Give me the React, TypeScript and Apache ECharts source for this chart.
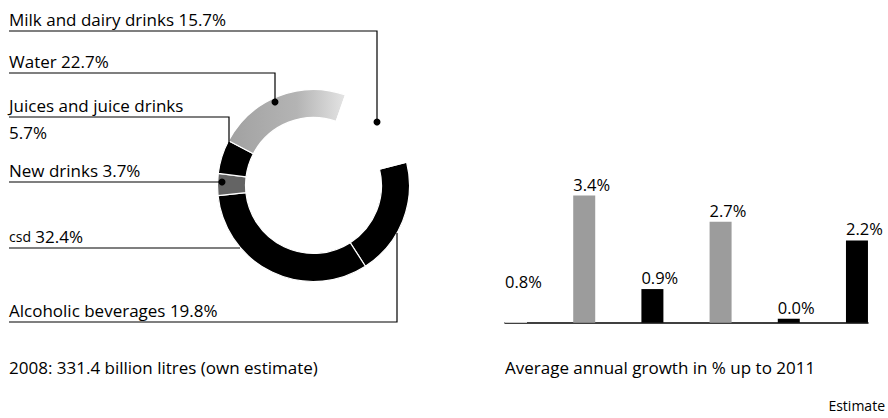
import React, { useEffect, useRef } from 'react';
import * as echarts from 'echarts';

// Donut: market shares 2008 (clockwise, starting at the right)
const segmentNames = ['Alcoholic beverages', 'CSD', 'New drinks', 'Juices and juice drinks', 'Water', 'Milk and dairy drinks'];
const segmentShares = [19.8, 32.4, 3.7, 5.7, 22.7, 15.7];
const segmentColors: any[] = [
  '#000000',
  '#000000',
  '#646464',
  '#000000',
  {
    type: 'linear', x: 225, y: 0, x2: 345, y2: 0, global: true,
    colorStops: [
      { offset: 0, color: '#a0a0a0' },
      { offset: 0.6, color: '#b4b4b4' },
      { offset: 1, color: '#e4e4e4' },
    ],
  },
  '#ffffff',
];

// Bars: average annual growth in % up to 2011
const growthCategories = ['Milk and dairy drinks', 'Water', 'Juices and juice drinks', 'New drinks', 'CSD', 'Alcoholic beverages'];
const growthValues = [0.8, 3.4, 0.9, 2.7, 0.0, 2.2];
const growthColors = ['#ffffff', '#9c9c9c', '#000000', '#9c9c9c', '#000000', '#000000'];

const totalText = '2008: 331.4 billion litres (own estimate)';
const growthTitle = 'Average annual growth in % up to 2011';
const noteText = 'Estimate';

const FONT = '"Open Sans", "Noto Sans", sans-serif';
const FS = 17;

// Leader layout for the left labels (positions only)
const leaders: Record<string, { lineY: number; path: number[][]; dot: boolean }> = {
  'Milk and dairy drinks': { lineY: 31, path: [[377, 31], [377, 122]], dot: true },
  'Water': { lineY: 73, path: [[275, 73], [275, 102]], dot: true },
  'Juices and juice drinks': { lineY: 117, path: [[229, 117], [229, 143]], dot: false },
  'New drinks': { lineY: 182, path: [[222, 182]], dot: true },
  'CSD': { lineY: 248, path: [[240, 248]], dot: false },
  'Alcoholic beverages': { lineY: 322, path: [[397, 322], [397, 233]], dot: false },
};

export default function App() {
  const ref = useRef<HTMLDivElement>(null);
  useEffect(() => {
    if (!ref.current) return;
    const chart = echarts.init(ref.current, undefined, { renderer: 'svg' });

    const graphics: any[] = [];
    segmentNames.forEach((name, i) => {
      const L = leaders[name];
      const share = segmentShares[i].toFixed(1) + '%';
      const pts = [[9, L.lineY], ...L.path];
      graphics.push({
        type: 'polyline',
        silent: true,
        shape: { points: pts },
        style: { stroke: '#000', lineWidth: 1.2, fill: null },
        z: 10,
      });
      if (L.dot) {
        const end = L.path[L.path.length - 1];
        graphics.push({
          type: 'circle',
          silent: true,
          shape: { cx: end[0], cy: end[1], r: 3.5 },
          style: { fill: '#000' },
          z: 11,
        });
      }
      if (name === 'Juices and juice drinks') {
        graphics.push({
          type: 'text',
          silent: true,
          x: 9,
          y: L.lineY - 25.5,
          style: {
            text: name + '\n' + share,
            font: `${FS}px ${FONT}`,
            fill: '#000',
            lineHeight: 27,
            verticalAlign: 'top',
            align: 'left',
          },
          z: 12,
        });
      } else if (name === 'CSD') {
        graphics.push({
          type: 'text',
          silent: true,
          x: 9,
          y: L.lineY - 12,
          style: {
            text: '{sc|' + name.toLowerCase() + '} ' + share,
            rich: { sc: { fontSize: 14, fontFamily: FONT, fill: '#000', fontWeight: 'normal' } },
            font: `${FS}px ${FONT}`,
            fill: '#000',
            verticalAlign: 'middle',
            align: 'left',
          },
          z: 12,
        });
      } else {
        graphics.push({
          type: 'text',
          silent: true,
          x: 9,
          y: L.lineY - 12,
          style: {
            text: name + ' ' + share,
            font: `${FS}px ${FONT}`,
            fill: '#000',
            verticalAlign: 'middle',
            align: 'left',
          },
          z: 12,
        });
      }
    });

    graphics.push(
      {
        type: 'text', silent: true, x: 9, y: 367,
        style: { text: totalText, font: `${FS}px ${FONT}`, fill: '#000', verticalAlign: 'middle', align: 'left' },
      },
      {
        type: 'text', silent: true, x: 505, y: 367,
        style: { text: growthTitle, font: `${FS}px ${FONT}`, fill: '#000', verticalAlign: 'middle', align: 'left' },
      },
      {
        type: 'text', silent: true, x: 885, y: 405,
        style: { text: noteText, font: `14px ${FONT}`, fill: '#000', verticalAlign: 'middle', align: 'right' },
      }
    );

    const option: any = {
      animation: false,
      backgroundColor: '#ffffff',
      grid: { left: 505, right: 20, top: 173.1, bottom: 80.3 },
      xAxis: {
        type: 'value',
        min: -0.1618,
        max: 5.1618,
        axisLine: { show: true, onZero: true, lineStyle: { color: '#000', width: 1.5 } },
        axisTick: { show: false },
        axisLabel: { show: false },
        splitLine: { show: false },
      },
      yAxis: {
        type: 'value',
        min: -0.4,
        max: 4,
        show: false,
        splitLine: { show: false },
      },
      series: [
        {
          type: 'pie',
          silent: true,
          center: [313.5, 185.5],
          radius: [68, 96],
          startAngle: 14,
          clockwise: true,
          label: { show: false },
          labelLine: { show: false },
          itemStyle: { borderColor: '#fff', borderWidth: 1.2 },
          data: segmentNames.map((n, i) => ({
            name: n,
            value: segmentShares[i],
            itemStyle: { color: segmentColors[i] },
          })),
        },
        {
          type: 'bar',
          silent: true,
          barWidth: 22,
          barMinHeight: 4,
          data: growthCategories.map((c, i) => ({
            name: c,
            value: [i, growthValues[i]],
            itemStyle: { color: growthColors[i] },
          })),
          label: {
            show: true,
            position: 'top',
            align: 'left',
            distance: 3,
            offset: [-11, 0],
            fontSize: 16.5,
            fontFamily: FONT,
            color: '#000',
            formatter: (p: any) => p.value[1].toFixed(1) + '%',
          },
        },
      ],
      graphic: graphics,
    };
    chart.setOption(option);
    return () => chart.dispose();
  }, []);

  return (
    <div
      ref={ref}
      style={{ position: 'fixed', left: 0, top: 0, width: 888, height: 418, background: '#fff' }}
    />
  );
}
